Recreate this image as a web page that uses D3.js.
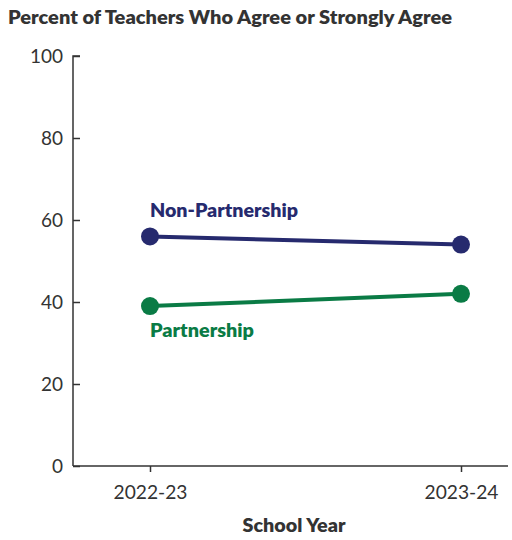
<!DOCTYPE html>
<html>
<head>
<meta charset="utf-8">
<script src="https://cdn.jsdelivr.net/npm/d3@7"></script>
<style>
  html, body { margin: 0; padding: 0; background: #fff; }
  svg { display: block; }
  text { font-family: Lato, "Open Sans", sans-serif; }
</style>
</head>
<body>
<svg id="chart" width="512" height="540"></svg>
<script>
// School years on the x axis
const years = ["2022-23", "2023-24"];
// Percent of teachers who agree or strongly agree
const nonPartnership = [56, 54];
const partnership = [39, 42];
const yTicks = [0, 20, 40, 60, 80, 100];

const series = [
  { name: "Non-Partnership", values: nonPartnership, color: "#262a6e", labelDy: -19, width: 148 },
  { name: "Partnership", values: partnership, color: "#0a7b45", labelDy: 31, width: 104 }
];

const svg = d3.select("#chart");

const x = d3.scalePoint().domain(years).range([150, 461]);
const y = d3.scaleLinear().domain([0, 100]).range([466, 56]);

// Title
svg.append("text")
  .attr("x", 8).attr("y", 24)
  .attr("font-size", 19).attr("font-weight", 800)
  .attr("fill", "#333")
  .attr("textLength", 444).attr("lengthAdjust", "spacingAndGlyphs")
  .text("Percent of Teachers Who Agree or Strongly Agree");

// Y axis
const yAxis = svg.append("g")
  .attr("transform", "translate(73,0)")
  .call(d3.axisRight(y).tickValues(yTicks).tickSize(7).tickFormat(d3.format("d")));
yAxis.select(".domain").attr("d", `M7,${y(100)}H0V${y(0)}`).attr("stroke", "#333").attr("stroke-width", 1.5);
yAxis.selectAll(".tick line").attr("stroke", "#333").attr("stroke-width", 1.5);
yAxis.selectAll(".tick text")
  .attr("x", -10).attr("text-anchor", "end").attr("dy", "0.35em")
  .attr("font-size", 19).attr("fill", "#333").attr("font-family", "Lato, sans-serif");

// X axis
const xAxis = svg.append("g")
  .attr("transform", `translate(0,${y(0)})`)
  .call(d3.axisBottom(x).tickSize(6).tickPadding(14));
xAxis.select(".domain").attr("d", "M73,0H508").attr("stroke", "#333").attr("stroke-width", 1.5);
xAxis.selectAll(".tick line").attr("stroke", "#333").attr("stroke-width", 1.5);
xAxis.selectAll(".tick text")
  .attr("font-size", 19).attr("fill", "#333").attr("font-family", "Lato, sans-serif")
  .attr("textLength", 74).attr("lengthAdjust", "spacingAndGlyphs");

// X axis title
svg.append("text")
  .attr("x", 294).attr("y", 532)
  .attr("text-anchor", "middle")
  .attr("font-size", 19).attr("font-weight", 800).attr("fill", "#333")
  .attr("textLength", 103).attr("lengthAdjust", "spacingAndGlyphs")
  .text("School Year");

// Lines, points and labels
const line = d3.line().x((d, i) => x(years[i])).y(d => y(d));

series.forEach(s => {
  svg.append("path")
    .attr("d", line(s.values))
    .attr("fill", "none").attr("stroke", s.color).attr("stroke-width", 4);
  svg.selectAll(null).data(s.values).enter().append("circle")
    .attr("cx", (d, i) => x(years[i])).attr("cy", d => y(d))
    .attr("r", 9).attr("fill", s.color);
  svg.append("text")
    .attr("x", x(years[0])).attr("y", y(s.values[0]) + s.labelDy)
    .attr("font-size", 19.5).attr("font-weight", 800).attr("fill", s.color)
    .attr("textLength", s.width).attr("lengthAdjust", "spacingAndGlyphs")
    .text(s.name);
});
</script>
</body>
</html>
